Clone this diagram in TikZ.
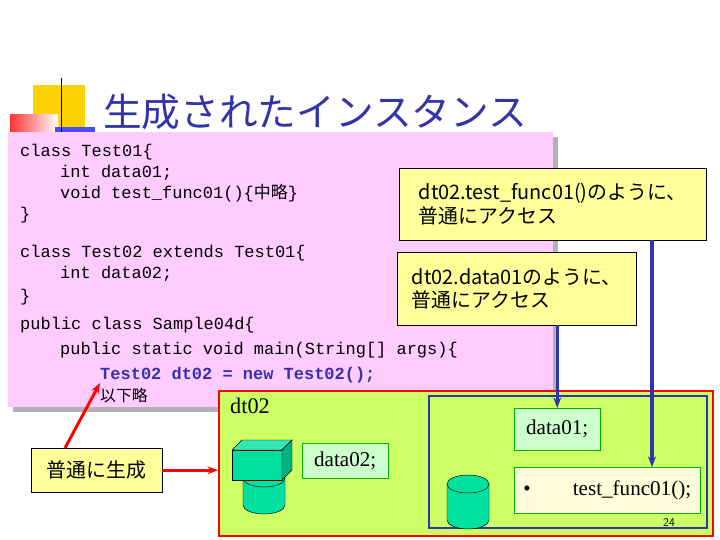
\documentclass[tikz,border=0pt]{standalone}
\usepackage{fontspec}
\setmainfont{Liberation Serif}
\newfontfamily\jp{Noto Sans CJK JP}
\newfontfamily\mono{Liberation Mono}
\usetikzlibrary{positioning, arrows.meta}
\definecolor{pinkbg}{HTML}{FFCCFF}
\definecolor{notebg}{HTML}{FFFF99}
\definecolor{limebg}{HTML}{CCFF66}
\definecolor{mintbg}{HTML}{CCFFCC}
\definecolor{teal}{HTML}{00E0A0}
\definecolor{navy}{HTML}{3333AA}
\tikzset{
  note/.style={draw=black, fill=notebg, align=left, inner sep=3pt, font=\jp\fontsize{17}{20}\selectfont},
  member/.style={draw=green!70!black, fill=mintbg, font=\fontsize{18}{20}\selectfont, inner sep=3pt},
  codeline/.style={anchor=base west, inner sep=0pt, font=\mono\fontsize{14.5}{15}\selectfont},
  bluearrow/.style={draw=navy, line width=2.8pt, -{Stealth[length=9pt]}},
  redarrow/.style={draw=red, line width=2.5pt, -{Stealth[length=9pt]}}
}
\newcommand\drum[4]{% x center, top y, bottom y, x radius
  \draw[fill=teal] (#1-#4,#2) -- (#1-#4,#3) arc[start angle=180, end angle=0, x radius=#4, y radius=9] -- (#1+#4,#2);
  \draw[fill=teal] (#1,#2) ellipse[x radius=#4, y radius=9];}
\begin{document}
\begin{tikzpicture}[x=0.03cm, y=-0.03cm]
\useasboundingbox (0,0) rectangle (720,540);
% decoration
\fill[yellow!70!orange] (33,85) rectangle (85,130);
\shade[left color=red!80, right color=white] (10,115) rectangle (58,137);
\fill[blue!70] (55,127) rectangle (95,140);
\draw[semithick] (61,78) -- (61,147);
\node[inner sep=0pt, anchor=base west, text=navy, font=\jp\fontsize{33}{34}\selectfont] (title) at (103,127) {生成されたインスタンス};
% code box
\fill[gray!60] (13,137) rectangle (558,412);
\node[fill=pinkbg, minimum width=545*0.03cm, minimum height=275*0.03cm, inner sep=0pt, anchor=north west] (code) at (8,132) {};
\node[codeline] (l1) at (20,157) {class Test01\{};
\node[codeline] (l2) at (60,178) {int data01;};
\node[codeline] (l3) at (60,199) {void test\_func01()\{{\jp 中略}\}};
\node[codeline] (l4) at (20,220) {\}};
\node[codeline] (l5) at (20,258) {class Test02 extends Test01\{};
\node[codeline] (l6) at (60,279) {int data02;};
\node[codeline] (l7) at (20,302) {\}};
\node[codeline] (l8) at (20,330) {public class Sample04d\{};
\node[codeline] (l9) at (60,355) {public static void main(String[] args)\{};
\node[codeline, text=navy, font=\mono\bfseries\fontsize{14.5}{15}\selectfont] (l10) at (100,380) {Test02 dt02 = new Test02();};
\node[codeline, font=\jp\fontsize{13.5}{15}\selectfont] (l11) at (100,402) {以下略};
% notes
\node[note, minimum width=307*0.03cm, minimum height=72*0.03cm, anchor=north west] (funcnote) at (399,168) {dt02.test\_func01()のように、\\普通にアクセス};
\node[note, minimum width=239*0.03cm, minimum height=73*0.03cm, anchor=north west] (datanote) at (397,252) {dt02.data01のように、\\普通にアクセス};
% instance
\node[draw=red, line width=2pt, fill=limebg, minimum width=494*0.03cm, minimum height=145*0.03cm, inner sep=0pt, anchor=north west] (inst) at (218,390) {};
\node[draw=navy, line width=2pt, minimum width=278*0.03cm, minimum height=132*0.03cm, inner sep=0pt, anchor=north west] (parent) at (428,395) {};
\node[anchor=north west, inner sep=0pt, font=\fontsize{19}{20}\selectfont] (name) at (230,398) {dt02};
% cube on drum
\drum{264}{478}{505}{21}
\draw[fill=teal] (232,450) rectangle (282,480);
\draw[fill=teal!80!white] (232,450) -- (242,440) -- (292,440) -- (282,450) -- cycle;
\draw[fill=teal!80!black] (282,450) -- (292,440) -- (292,470) -- (282,480) -- cycle;
\node[member, minimum width=86*0.03cm, minimum height=35*0.03cm, anchor=north west] (d2) at (302,443) {data02;};
% drum 2
\drum{468}{484}{520}{21}
\node[member, minimum width=86*0.03cm, minimum height=42*0.03cm, anchor=north west] (d1) at (514,408) {data01;};
\node[member, fill=yellow!15, minimum width=186*0.03cm, minimum height=46*0.03cm, anchor=north west] (func) at (514,467) {\textbullet\hspace{2em}test\_func01();};
\node[font=\sffamily\fontsize{10}{11}\selectfont, inner sep=0pt] (page) at (669,523) {24};
% plain creation
\node[note, minimum width=131*0.03cm, minimum height=44*0.03cm, anchor=north west] (create) at (31,448) {普通に生成};
\coordinate (newtip) at (100,383);
\draw[redarrow] (create.north west) ++(34,0) -- (newtip);
\draw[redarrow] (create.east) -- (inst.west |- create.east);
\draw[bluearrow] (datanote.south -| d1.north) -- (d1.north);
\draw[bluearrow] (funcnote.south -| 652,0) -- (func.north -| 652,0);
\end{tikzpicture}
\end{document}
